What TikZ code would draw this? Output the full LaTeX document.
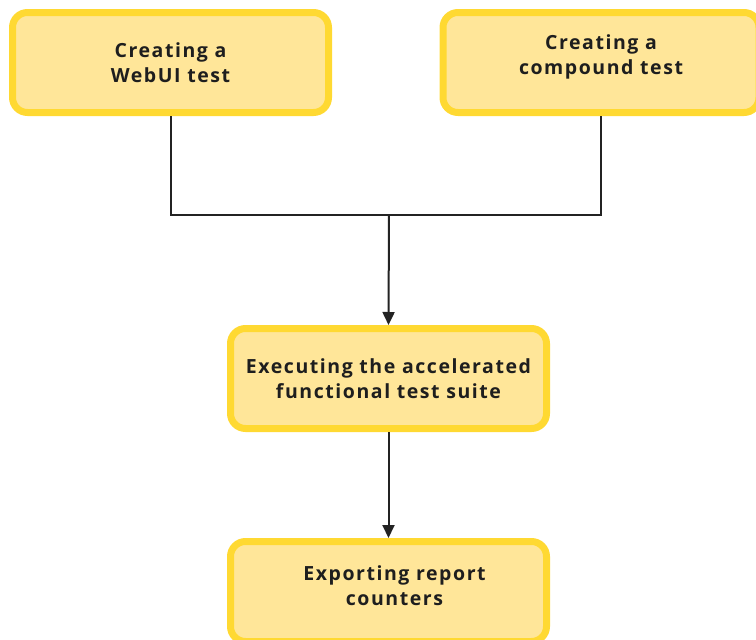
\documentclass[tikz,border=0pt]{standalone}
\usepackage{fontspec}
\setmainfont{Open Sans}
\newfontfamily\lblfont[LetterSpace=8]{Open Sans}
\usetikzlibrary{arrows.meta}
\definecolor{boxfill}{RGB}{255,230,153}
\definecolor{boxline}{RGB}{255,217,50}
\definecolor{txt}{RGB}{30,30,30}
\definecolor{conn}{RGB}{35,35,35}
\tikzset{
  stepbox/.style={draw=boxline, fill=boxfill, line width=7pt, rounded corners=15pt,
    minimum width=316pt, minimum height=100pt, inner sep=0pt},
  lbl/.style={align=center, font=\lblfont\bfseries\fontsize{19.5}{25}\selectfont, text=txt},
  conn/.style={draw=conn, line width=2pt},
  arr/.style={conn, -{Triangle[length=13pt,width=12pt]}}
}
\begin{document}
\begin{tikzpicture}[x=1pt,y=-1pt]
\useasboundingbox (0,0) rectangle (756,640);
\begin{scope}
\clip (0,0) rectangle (756,640);
\node[stepbox, label={[lbl]center:Creating a\\WebUI test}] (b1) at (170.5,62.5) {};
\node[stepbox, label={[lbl, yshift=6pt]center:Creating a\\compound test}] (b2) at (601,62.5) {};
\node[stepbox, label={[lbl]center:Executing the accelerated\\functional test suite}] (b3) at (388.5,378.5) {};
\node[stepbox, label={[lbl, yshift=6pt, xshift=6pt]center:Exporting report\\counters}] (b4) at (388.5,591.5) {};
\end{scope}
\coordinate (j) at (389,215);
\draw[conn] (b1.south) |- (j) -| (b2.south);
\draw[arr] (j) -- (b3.north);
\draw[arr] (b3.south) -- (b4.north);
\end{tikzpicture}
\end{document}
